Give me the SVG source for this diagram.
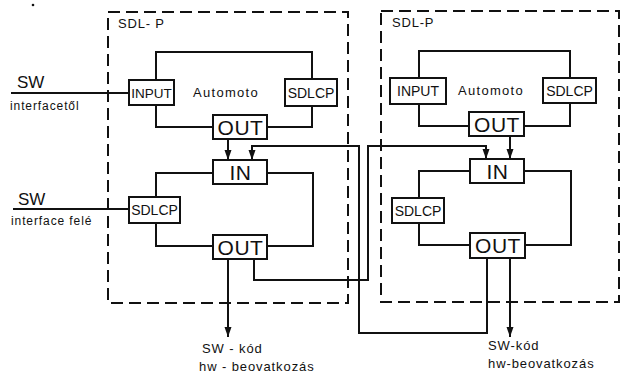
<svg xmlns="http://www.w3.org/2000/svg" width="622" height="376" viewBox="0 0 622 376">
<style>
  .bg{fill:#ffffff}
  .frame{fill:none;stroke:#111;stroke-width:2;stroke-dasharray:12 6}
  .box{fill:#ffffff;stroke:#111;stroke-width:2}
  .wire{fill:none;stroke:#111;stroke-width:2;stroke-linejoin:miter}
  text{font-family:"Liberation Sans",Arial,sans-serif;fill:#111}
  .lbl{font-size:13.5px;text-anchor:middle}
  .lbl2{font-size:14px;text-anchor:middle}
  .big{font-size:21px;text-anchor:middle;letter-spacing:0.5px}
  .auto{font-size:13px;letter-spacing:1.3px}
  .sdlp{font-size:13px;letter-spacing:0.8px}
  .sw{font-size:17px}
  .small{font-size:12px;letter-spacing:0.9px}
  .out{font-size:13px;letter-spacing:0.9px}
</style>
<defs>
  <marker id="arr" markerUnits="userSpaceOnUse" markerWidth="10" markerHeight="12" viewBox="0 0 10 12" refX="10" refY="6" orient="auto">
    <path d="M0,2.5 L10,6 L0,9.5 Z" fill="#111"/>
  </marker>
</defs>
<rect class="bg" x="0" y="0" width="622" height="376"/>
<circle cx="33" cy="5" r="1.3" fill="#111"/>

<g id="module-left">
  <rect class="frame" x="108" y="12" width="240" height="291"/>
  <text class="sdlp" x="118" y="28">SDL- P</text>
  <text class="auto" x="193" y="97">Automoto</text>
</g>
<g id="module-right">
  <rect class="frame" x="381" y="11" width="238" height="291"/>
  <text class="sdlp" x="392" y="27">SDL-P</text>
  <text class="auto" x="458" y="95">Automoto</text>
</g>

<g id="connectors">
  <!-- left upper loop -->
  <path class="wire" d="M156,80 V52 H312 V79"/>
  <path class="wire" d="M156,105 V127 H213"/>
  <path class="wire" d="M267,127 H312 V106"/>
  <!-- left lower loop -->
  <path class="wire" d="M213,173 H156 V197"/>
  <path class="wire" d="M267,173 H313 V246 H267"/>
  <path class="wire" d="M156,223 V246 H213"/>
  <!-- left OUT -> IN -->
  <path class="wire" d="M228,139 V160" marker-end="url(#arr)"/>
  <!-- right upper loop -->
  <path class="wire" d="M419,78 V51 H570 V78"/>
  <path class="wire" d="M419,104 V126 H469"/>
  <path class="wire" d="M524,126 H570 V103"/>
  <!-- right lower loop -->
  <path class="wire" d="M470,171 H419 V198"/>
  <path class="wire" d="M524,171 H571 V245 H525"/>
  <path class="wire" d="M419,223 V245 H470"/>
  <!-- right OUT -> IN -->
  <path class="wire" d="M510,136 V159" marker-end="url(#arr)"/>
  <!-- cross links -->
  <path class="wire" d="M254,259 V280 H368 V146 H486 V159" marker-end="url(#arr)"/>
  <path class="wire" d="M487,258 V333 H359 V146 H252 V160" marker-end="url(#arr)"/>
  <!-- outputs -->
  <path class="wire" d="M228,259 V337" marker-end="url(#arr)"/>
  <path class="wire" d="M510,258 V337" marker-end="url(#arr)"/>
  <!-- inputs -->
  <path class="wire" d="M11,93 H129"/>
  <path class="wire" d="M13,209 H129"/>
</g>

<g id="l-input"><rect class="box" x="129" y="80" width="45" height="25"/><text class="lbl" x="151.5" y="97.5">INPUT</text></g>
<g id="l-sdlcp1"><rect class="box" x="285" y="79" width="52" height="27"/><text class="lbl2" x="311" y="97.5">SDLCP</text></g>
<g id="l-out1"><rect class="box" x="213" y="115" width="54" height="24"/><text class="big" x="240.5" y="134.5">OUT</text></g>
<g id="l-in"><rect class="box" x="213" y="160" width="54" height="24"/><text class="big" x="240.5" y="179.5">IN</text></g>
<g id="l-sdlcp2"><rect class="box" x="129" y="197" width="51" height="26"/><text class="lbl2" x="154.5" y="215">SDLCP</text></g>
<g id="l-out2"><rect class="box" x="213" y="235" width="54" height="24"/><text class="big" x="240.5" y="254.5">OUT</text></g>

<g id="r-input"><rect class="box" x="390" y="78" width="56" height="26"/><text class="lbl2" x="418" y="96">INPUT</text></g>
<g id="r-sdlcp1"><rect class="box" x="543" y="78" width="53" height="25"/><text class="lbl2" x="569.5" y="95.5">SDLCP</text></g>
<g id="r-out1"><rect class="box" x="469" y="112" width="55" height="24"/><text class="big" x="497" y="131.5">OUT</text></g>
<g id="r-in"><rect class="box" x="470" y="159" width="54" height="24"/><text class="big" x="497.5" y="178.5">IN</text></g>
<g id="r-sdlcp2"><rect class="box" x="392" y="198" width="52" height="25"/><text class="lbl2" x="418" y="215.5">SDLCP</text></g>
<g id="r-out2"><rect class="box" x="470" y="233" width="55" height="25"/><text class="big" x="498" y="253">OUT</text></g>

<g id="sw-in">
  <text class="sw" x="17" y="88">SW</text>
  <text class="small" x="10" y="110">interfacetől</text>
</g>
<g id="sw-out">
  <text class="sw" x="18" y="205">SW</text>
  <text class="small" x="11" y="225">interface felé</text>
</g>
<g id="out-left">
  <text class="out" x="202" y="353">SW - kód</text>
  <text class="out" x="199" y="371">hw - beovatkozás</text>
</g>
<g id="out-right">
  <text class="out" x="488" y="350">SW-kód</text>
  <text class="out" x="488" y="368">hw-beovatkozás</text>
</g>
</svg>
